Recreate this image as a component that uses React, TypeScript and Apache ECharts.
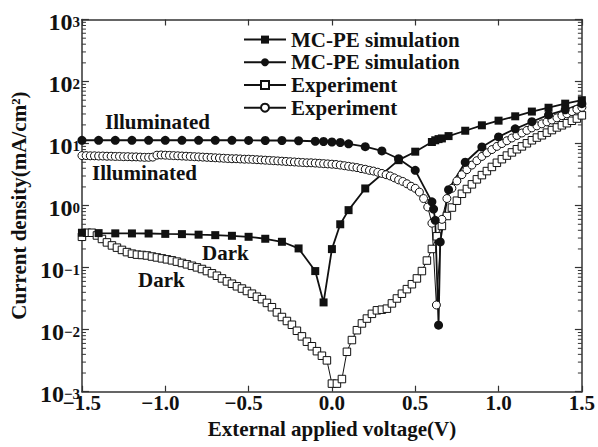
import React, { useEffect, useRef } from "react";
import * as echarts from "echarts";

const FONT = '"Liberation Serif", "Times New Roman", Times, serif';

// Tick labels
const xTicks = [-1.5, -1.0, -0.5, 0.0, 0.5, 1.0, 1.5];
const yDecades = [-3, -2, -1, 0, 1, 2, 3];

// Legend names
const legendNames = ["MC-PE simulation", "MC-PE simulation ", "Experiment", "Experiment "];

// MC-PE simulation, dark (filled squares)
const darkSimV = [-1.5, -1.4, -1.3, -1.2, -1.1, -1.0, -0.9, -0.8, -0.7, -0.6, -0.5, -0.4, -0.3, -0.2, -0.1, -0.05, 0.0, 0.05, 0.1, 0.2, 0.4, 0.5, 0.6, 0.62, 0.64, 0.66, 0.7, 0.8, 0.9, 1.0, 1.1, 1.2, 1.3, 1.4, 1.5];
const darkSimJ = [0.365, 0.36, 0.357, 0.356, 0.355, 0.35, 0.347, 0.34, 0.334, 0.326, 0.314, 0.292, 0.261, 0.204, 0.088, 0.0275, 0.199, 0.5, 0.845, 1.89, 5.4, 7.4, 10.6, 11.3, 11.8, 12.1, 13.2, 16.1, 19.7, 23.4, 27.5, 32.8, 37.8, 44, 50];

// MC-PE simulation, illuminated (filled circles)
const illumSimV = [-1.5, -1.4, -1.3, -1.2, -1.1, -1.0, -0.9, -0.8, -0.7, -0.6, -0.5, -0.4, -0.3, -0.2, -0.1, -0.05, 0.0, 0.05, 0.1, 0.2, 0.3, 0.4, 0.5, 0.6, 0.61, 0.62, 0.64, 0.65, 0.7, 0.8, 0.9, 1.0, 1.1, 1.2, 1.3, 1.4, 1.5];
const illumSimJ = [11.3, 11.3, 11.3, 11.3, 11.3, 11.3, 11.3, 11.3, 11.3, 11.3, 11.25, 11.2, 11.2, 11.1, 10.9, 10.8, 10.6, 10.4, 9.9, 8.9, 7.6, 5.7, 3.7, 1.15, 0.88, 0.58, 0.0118, 0.26, 1.8, 5.0, 8.8, 12.8, 17.3, 22.5, 29, 35, 44];

// Experiment, dark (open squares)
const darkExpV = [-1.5, -1.47, -1.44, -1.41, -1.38, -1.35, -1.32, -1.29, -1.26, -1.23, -1.2, -1.17, -1.14, -1.11, -1.08, -1.05, -1.02, -0.99, -0.96, -0.93, -0.9, -0.87, -0.84, -0.81, -0.78, -0.75, -0.72, -0.69, -0.66, -0.63, -0.6, -0.57, -0.54, -0.51, -0.48, -0.45, -0.42, -0.39, -0.36, -0.33, -0.3, -0.27, -0.24, -0.21, -0.18, -0.15, -0.12, -0.09, -0.06, -0.03, 0.0, 0.03, 0.06, 0.09, 0.12, 0.15, 0.18, 0.21, 0.24, 0.27, 0.3, 0.33, 0.36, 0.39, 0.42, 0.45, 0.48, 0.51, 0.54, 0.57, 0.6, 0.63, 0.66, 0.69, 0.72, 0.75, 0.78, 0.81, 0.84, 0.87, 0.9, 0.93, 0.96, 0.99, 1.02, 1.05, 1.08, 1.11, 1.14, 1.17, 1.2, 1.23, 1.26, 1.29, 1.32, 1.35, 1.38, 1.41, 1.44, 1.47, 1.5];
const darkExpJ = [0.314, 0.365, 0.365, 0.33, 0.29, 0.255, 0.228, 0.21, 0.193, 0.178, 0.168, 0.162, 0.16, 0.157, 0.151, 0.146, 0.141, 0.136, 0.131, 0.125, 0.119, 0.113, 0.107, 0.101, 0.095, 0.088, 0.081, 0.074, 0.067, 0.06, 0.055, 0.05, 0.046, 0.042, 0.038, 0.034, 0.031, 0.027, 0.023, 0.019, 0.016, 0.0138, 0.012, 0.0096, 0.0078, 0.0064, 0.0054, 0.0045, 0.0038, 0.0032, 0.00135, 0.00135, 0.0016, 0.0044, 0.0068, 0.0098, 0.0126, 0.0151, 0.018, 0.0205, 0.021, 0.0218, 0.0265, 0.0318, 0.038, 0.045, 0.054, 0.067, 0.088, 0.13, 0.2, 0.32, 0.47, 0.68, 0.93, 1.2, 1.55, 1.85, 2.2, 2.65, 3.1, 3.6, 4.2, 4.9, 5.6, 6.4, 7.2, 8.1, 9.0, 10.1, 11.3, 12.5, 13.6, 15.0, 16.5, 18.2, 19.7, 21.3, 23.3, 25.3, 28.5];

// Experiment, illuminated (open circles)
const illumExpV = [-1.5, -1.475, -1.45, -1.425, -1.4, -1.375, -1.35, -1.325, -1.3, -1.275, -1.25, -1.225, -1.2, -1.175, -1.15, -1.125, -1.1, -1.075, -1.05, -1.025, -1.0, -0.975, -0.95, -0.925, -0.9, -0.875, -0.85, -0.825, -0.8, -0.775, -0.75, -0.725, -0.7, -0.675, -0.65, -0.625, -0.6, -0.575, -0.55, -0.525, -0.5, -0.475, -0.45, -0.425, -0.4, -0.375, -0.35, -0.325, -0.3, -0.275, -0.25, -0.225, -0.2, -0.175, -0.15, -0.125, -0.1, -0.075, -0.05, -0.025, 0.0, 0.025, 0.05, 0.075, 0.1, 0.125, 0.15, 0.175, 0.2, 0.225, 0.25, 0.275, 0.3, 0.325, 0.35, 0.375, 0.4, 0.425, 0.45, 0.475, 0.5, 0.525, 0.55, 0.575, 0.6, 0.627, 0.66, 0.69, 0.72, 0.75, 0.78, 0.81, 0.84, 0.87, 0.9, 0.93, 0.96, 0.99, 1.02, 1.05, 1.08, 1.11, 1.14, 1.17, 1.2, 1.23, 1.26, 1.29, 1.32, 1.35, 1.38, 1.41, 1.44, 1.47, 1.5];
const illumExpJ = [6.4, 6.4, 6.35, 6.35, 6.3, 6.3, 6.25, 6.25, 6.2, 6.2, 6.15, 6.15, 6.1, 6.1, 6.05, 6.0, 6.0, 6.05, 6.5, 6.55, 6.5, 6.45, 6.4, 6.35, 6.3, 6.25, 6.2, 6.15, 6.1, 6.05, 6.0, 5.95, 5.9, 5.85, 5.8, 5.75, 5.7, 5.7, 5.65, 5.6, 5.6, 5.55, 5.5, 5.45, 5.4, 5.35, 5.3, 5.25, 5.2, 5.15, 5.1, 5.05, 5.0, 4.95, 4.9, 4.9, 4.85, 4.8, 4.75, 4.7, 4.65, 4.6, 4.5, 4.4, 4.3, 4.2, 4.1, 3.95, 3.85, 3.7, 3.6, 3.45, 3.3, 3.15, 3.0, 2.8, 2.6, 2.45, 2.25, 2.05, 1.9, 1.65, 1.3, 0.95, 0.52, 0.025, 0.6, 1.3, 1.9, 2.5, 3.15, 3.8, 4.5, 5.3, 6.2, 7.1, 8.0, 9.0, 10.0, 11.1, 12.3, 13.5, 14.8, 16.3, 17.9, 19.3, 20.8, 22.4, 24.0, 26.0, 28.2, 30.2, 32.8, 35.6, 38.4];

// Minor log ticks (2..9 within each decade)
const minorMultipliers = [2, 3, 4, 5, 6, 7, 8, 9];

const zip = (xs: number[], ys: number[]) => xs.map((x, i) => [x, ys[i]]);

export default function App() {
  const ref = useRef<HTMLDivElement>(null);
  useEffect(() => {
    if (!ref.current) return;
    const chart = echarts.init(ref.current, undefined, { renderer: "svg" });
    const ink = "#111";
    const frame = "#333";
    const minorData: number[][] = [];
    for (let d = yDecades[0]; d < yDecades[yDecades.length - 1]; d++) {
      for (const m of minorMultipliers) minorData.push([0, m * Math.pow(10, d)]);
    }
    const xMin = xTicks[0];
    const xMax = xTicks[xTicks.length - 1];
    const yMin = Math.pow(10, yDecades[0]);
    const yMax = Math.pow(10, yDecades[yDecades.length - 1]);
    const fmtX = (v: number) => {
      if (v >= -1e-9) return v.toFixed(1);
      const s = "\u2212" + Math.abs(v).toFixed(1);
      // leftmost label stays centred so it clears the 10^-3 label
      return Math.abs(v - xMin) < 1e-9 ? s : s + "{sp|}";
    };
    const fmtY = (v: number) => {
      const e = Math.round(Math.log10(v));
      return `{b|10}{s|${e < 0 ? "\u2212" : ""}${Math.abs(e)}}`;
    };
    const axisLine = { show: true, onZero: false, lineStyle: { color: frame, width: 1.5 } };
    const tickStyle = { color: frame, width: 1.2 };
    const textBase = { fontFamily: FONT, fontWeight: "bold" as const, color: ink };

    const option: any = {
      animation: false,
      backgroundColor: "#fff",
      grid: { left: 80, right: 15, top: 19.5, bottom: 55.3, containLabel: false },
      xAxis: [
        {
          type: "value", min: xMin, max: xMax, interval: 0.5, position: "bottom",
          axisLine, axisTick: { inside: true, length: 6, lineStyle: tickStyle },
          axisLabel: {
            ...textBase, fontSize: 21, lineHeight: 16, margin: 3, formatter: fmtX,
            rich: { sp: { width: 10, fontSize: 21, lineHeight: 16 } },
          },
          splitLine: { show: false },
          name: "External applied voltage(V)", nameLocation: "middle", nameGap: 16,
          nameTextStyle: { ...textBase, fontSize: 21 },
        },
        {
          type: "value", min: xMin, max: xMax, interval: 0.5, position: "top",
          axisLine, axisTick: { inside: true, length: 6, lineStyle: tickStyle },
          axisLabel: { show: false }, splitLine: { show: false },
        },
      ],
      yAxis: [
        {
          type: "log", logBase: 10, min: yMin, max: yMax, splitNumber: 6, position: "left",
          axisLine, axisTick: { inside: true, length: 7, lineStyle: tickStyle },
          axisLabel: {
            margin: 2, formatter: fmtY, padding: [5, 0, 0, 0],
            rich: {
              b: { ...textBase, fontSize: 24, lineHeight: 18 },
              s: { ...textBase, fontSize: 15, lineHeight: 12, verticalAlign: "top", padding: [1, 0, 0, 0] },
            },
          },
          splitLine: { show: false },
          name: "Current density(mA/cm\u00b2)", nameLocation: "middle", nameGap: 48,
          nameTextStyle: { ...textBase, fontSize: 21 },
        },
        {
          type: "log", logBase: 10, min: yMin, max: yMax, splitNumber: 6, position: "right",
          axisLine, axisTick: { inside: true, length: 7, lineStyle: tickStyle },
          axisLabel: { show: false }, splitLine: { show: false },
        },
      ],
      legend: {
        data: legendNames, orient: "vertical", left: 243, top: 28.6, padding: 0,
        itemWidth: 42, itemHeight: 10, itemGap: 0.7,
        formatter: (n: string) => n.trim(),
        textStyle: { ...textBase, fontSize: 21, lineHeight: 22 },
        selectedMode: false,
      },
      graphic: [
        { type: "text", x: 105, y: 122, style: { text: "Illuminated", fill: ink, font: `bold 21px ${FONT}`, align: "left", verticalAlign: "middle" } },
        { type: "text", x: 92, y: 173, style: { text: "Illuminated", fill: ink, font: `bold 21px ${FONT}`, align: "left", verticalAlign: "middle" } },
        { type: "text", x: 202, y: 253, style: { text: "Dark", fill: ink, font: `bold 21px ${FONT}`, align: "left", verticalAlign: "middle" } },
        { type: "text", x: 138, y: 280, style: { text: "Dark", fill: ink, font: `bold 21px ${FONT}`, align: "left", verticalAlign: "middle" } },
      ],
      series: [
        {
          type: "custom", silent: true, xAxisIndex: 0, yAxisIndex: 0, data: minorData,
          renderItem: (_p: any, api: any) => {
            const v = api.value(1);
            const a = api.coord([xMin, v]);
            const b = api.coord([xMax, v]);
            return {
              type: "group",
              children: [
                { type: "line", shape: { x1: a[0], y1: a[1], x2: a[0] + 4, y2: a[1] }, style: { stroke: frame, lineWidth: 1 } },
                { type: "line", shape: { x1: b[0] - 4, y1: b[1], x2: b[0], y2: b[1] }, style: { stroke: frame, lineWidth: 1 } },
              ],
            };
          },
        },
        {
          name: legendNames[2], type: "line", data: zip(darkExpV, darkExpJ),
          symbol: "rect", symbolSize: 7.5, showAllSymbol: true,
          lineStyle: { color: ink, width: 1 },
          itemStyle: { color: "#fff", borderColor: ink, borderWidth: 1 },
        },
        {
          name: legendNames[3], type: "line", data: zip(illumExpV, illumExpJ),
          symbol: "circle", symbolSize: 8, showAllSymbol: true,
          lineStyle: { color: ink, width: 1 },
          itemStyle: { color: "#fff", borderColor: ink, borderWidth: 1 },
        },
        {
          name: legendNames[0], type: "line", data: zip(darkSimV, darkSimJ),
          symbol: "rect", symbolSize: 8, showAllSymbol: true,
          lineStyle: { color: ink, width: 1.8 },
          itemStyle: { color: ink, borderWidth: 0 },
        },
        {
          name: legendNames[1], type: "line", data: zip(illumSimV, illumSimJ),
          symbol: "circle", symbolSize: 9, showAllSymbol: true,
          lineStyle: { color: ink, width: 1.8 },
          itemStyle: { color: ink, borderWidth: 0 },
        },
      ],
    };
    chart.setOption(option);
    return () => chart.dispose();
  }, []);
  return <div ref={ref} style={{ position: "fixed", left: 0, top: 0, width: 598, height: 447, background: "#fff" }} />;
}
